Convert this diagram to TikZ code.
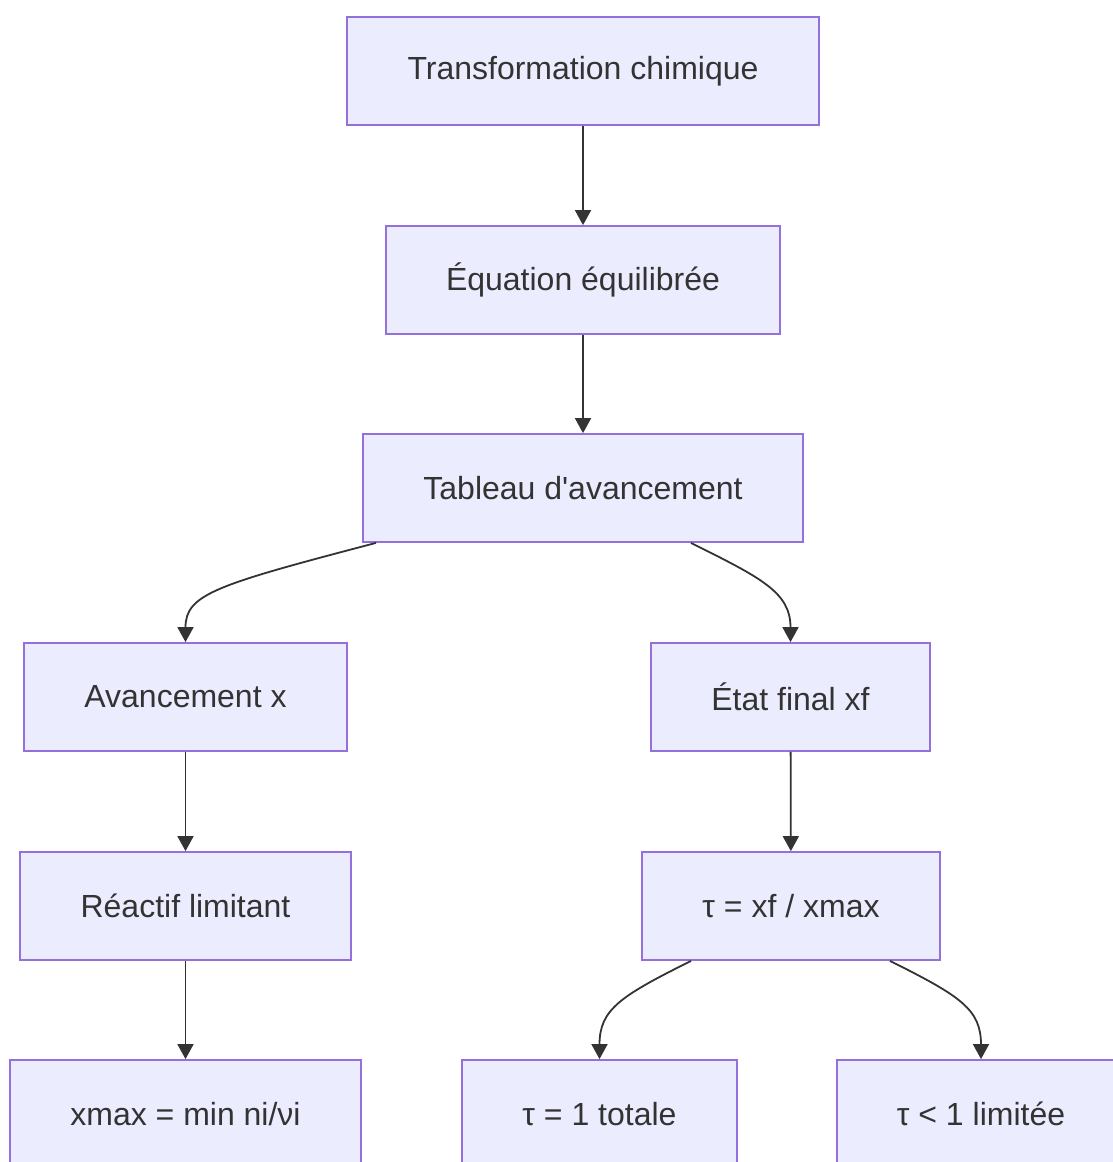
\documentclass[tikz,border=0pt]{standalone}
\usepackage{fontspec}
\setmainfont{Liberation Sans}[Ligatures=TeXOff]
\usetikzlibrary{arrows.meta,calc}
\definecolor{nodefill}{HTML}{ECECFF}
\definecolor{nodeline}{HTML}{9370DB}
\definecolor{ink}{HTML}{333333}
\tikzset{
  box/.style={draw=nodeline, fill=nodefill, line width=1.8pt, rectangle,
    minimum height=108pt, inner sep=0pt, text=ink,
    font=\fontsize{32}{38}\selectfont},
  edge/.style={draw=ink, line width=1.8pt, -{Triangle[length=15pt,width=16pt]}}
}
\begin{document}
\begin{tikzpicture}[x=1pt,y=-1pt]
\useasboundingbox (0,0) rectangle (1113,1162);
\clip (0,0) rectangle (1113,1162);
\node[box, minimum width=472pt] (trans) at (583,71) {Transformation chimique};
\node[box, minimum width=394pt] (equ) at (583,280) {Équation équilibrée};
\node[box, minimum width=440pt] (tab) at (583,488) {Tableau d'avancement};
\node[box, minimum width=323pt] (avx) at (185.5,697) {Avancement x};
\node[box, minimum width=279pt] (etat) at (790.5,697) {État final xf};
\node[box, minimum width=331pt] (reac) at (185.5,906) {Réactif limitant};
\node[box, minimum width=298pt] (tau) at (791,906) {τ = xf / xmax};
\node[box, minimum width=351pt] (xmax) at (185.5,1114) {xmax = min ni/νi};
\node[box, minimum width=275pt] (tot) at (599.5,1114) {τ = 1 totale};
\node[box, minimum width=288pt] (lim) at (981,1114) {τ < 1 limitée};

\draw[edge] (trans) -- (equ);
\draw[edge] (equ) -- (tab);
\draw[edge] (avx) -- (reac);
\draw[edge] (reac) -- (xmax);
\draw[edge] (etat) -- (tau);

\coordinate (s1) at ([xshift=-207pt]tab.south);
\coordinate (s2) at ([xshift=108pt]tab.south);
\coordinate (s3) at ([xshift=-100pt]tau.south);
\coordinate (s4) at ([xshift=99pt]tau.south);

\draw[edge] (s1) .. controls ($(s1)+(-160,42)$) and ($(avx.north)+(0,-48)$) .. (avx.north);
\draw[edge] (s2) .. controls ($(s2)+(70,35)$) and ($(etat.north)+(0,-50)$) .. (etat.north);
\draw[edge] (s3) .. controls ($(s3)+(-70,35)$) and ($(tot.north)+(0,-50)$) .. (tot.north);
\draw[edge] (s4) .. controls ($(s4)+(70,35)$) and ($(lim.north)+(0,-50)$) .. (lim.north);
\end{tikzpicture}
\end{document}
